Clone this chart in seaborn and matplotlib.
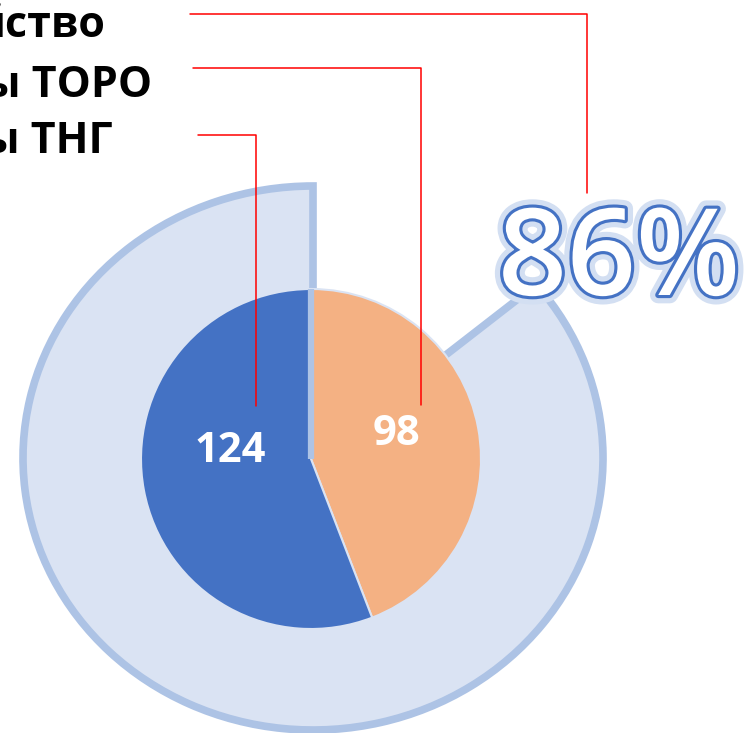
#!/usr/bin/env python3
# -*- coding: utf8 -*-

import matplotlib.pyplot as plt
import matplotlib.patheffects as pe
import seaborn as sns

# data
labels = ['йство', 'ы ТОРО', 'ы ТНГ']
inner_values = [98, 124]          # ТОРО, ТНГ
inner_colors = ['#F4B183', '#4472C4']
outer_share = 86                  # percent

W, H = 748, 733

sns.set_style('white')
plt.rcParams['font.family'] = ['Open Sans', 'DejaVu Sans']

fig = plt.figure(figsize=(W / 100, H / 100), dpi=100)
fig.patch.set_facecolor('white')


def px_axes(cx, cy, rx, ry):
    # axes placed by pixel centre and half sizes
    return fig.add_axes([(cx - rx) / W, (H - cy - ry) / H, 2 * rx / W, 2 * ry / H])


# outer ring (86%)
ax_out = px_axes(313, 458, 290, 272)
wedges, _ = ax_out.pie([outer_share, 100 - outer_share], colors=['#DAE3F3', 'none'],
                       startangle=90, counterclock=True, radius=1,
                       wedgeprops=dict(edgecolor='#ADC3E5', linewidth=5.5))
wedges[1].set_visible(False)
for w in wedges:
    w.set_clip_on(False)
ax_out.set_aspect('auto')
ax_out.set_xlim(-1, 1)
ax_out.set_ylim(-1, 1)

# inner pie
ax_in = px_axes(311, 459, 170, 170)
ax_in.pie(inner_values, colors=inner_colors, startangle=90, counterclock=False,
          radius=1, wedgeprops=dict(edgecolor='#DAE3F3', linewidth=1.5))
ax_in.plot([0, 0], [0, 1], color='#ADC3E5', lw=4.5, solid_capstyle='butt')
ax_in.set_xlim(-1, 1)
ax_in.set_ylim(-1, 1)

# overlay in pixel coordinates for labels and leader lines
ax = fig.add_axes([0, 0, 1, 1])
ax.set_xlim(0, W)
ax.set_ylim(H, 0)
ax.axis('off')

ax.text(230, 462, str(inner_values[1]), color='white', fontsize=30,
        fontweight='bold', ha='center', va='baseline')
ax.text(397, 445, str(inner_values[0]), color='white', fontsize=30,
        fontweight='bold', ha='center', va='baseline')

label_pos = [(106, 37), (152, 97), (113, 153)]
for text, (x, y) in zip(labels, label_pos):
    ax.text(x, y, text, fontsize=31, fontweight='bold', color='black',
            ha='right', va='baseline')

red = '#FF0000'
ax.plot([190, 587, 587], [14, 14, 193], color=red, lw=1.1)
ax.plot([193, 421, 421], [68, 68, 405], color=red, lw=1.1)
ax.plot([198, 256, 256], [135, 135, 406], color=red, lw=1.1)

ax.text(498, 295, f'{outer_share}%', fontsize=87, color='white',
        fontweight='semibold', ha='left', va='baseline',
        path_effects=[pe.Stroke(linewidth=12, foreground='#D3DFF2'),
                      pe.Stroke(linewidth=4.5, foreground='#4472C4'),
                      pe.Normal()])

fig.savefig('out.png', dpi=100)
